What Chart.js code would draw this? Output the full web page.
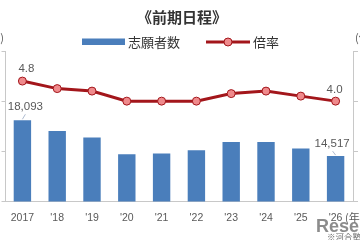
<!DOCTYPE html>
<html lang="ja">
<head>
<meta charset="UTF-8">
<title>前期日程</title>
<script src="https://cdn.jsdelivr.net/npm/chart.js"></script>
<style>
  html, body { margin: 0; padding: 0; background: #fff; }
  #wrap { width: 360px; height: 240px; position: relative; }
</style>
</head>
<body>
<div id="wrap"><canvas id="chart"></canvas></div>
<script>
// data
const years = ["2017", "'18", "'19", "'20", "'21", "'22", "'23", "'24", "'25", "'26"];
const applicants = [18093, 17030, 16370, 14700, 14770, 15100, 15930, 15930, 15270, 14517];
const ratio = [4.8, 4.5, 4.4, 4.0, 4.0, 4.0, 4.3, 4.4, 4.2, 4.0];

const BLUE = '#4a7ebb';
const RED = '#a3161b';
const PINK = '#ef8a8c';
const TXT = '#595959';
const AXIS = '#c8c8c8';
const JP = "'Noto Sans CJK JP', sans-serif";
const NUM = "'Liberation Sans', Arial, sans-serif";

// titles, legend, value labels and small notes
const decorations = {
  id: 'decorations',
  afterDraw(chart) {
    const ctx = chart.ctx;
    ctx.save();

    ctx.fillStyle = '#333';
    ctx.font = 'bold 15px ' + JP;
    ctx.textAlign = 'center';
    ctx.textBaseline = 'middle';
    ctx.fillText('《前期日程》', 182, 17);

    // legend
    ctx.fillStyle = BLUE;
    ctx.fillRect(82, 38.5, 43, 6.5);
    ctx.fillStyle = '#333';
    ctx.font = '13px ' + JP;
    ctx.textAlign = 'left';
    ctx.fillText('志願者数', 128, 42);
    ctx.strokeStyle = RED;
    ctx.lineWidth = 3;
    ctx.beginPath();
    ctx.moveTo(206, 42);
    ctx.lineTo(250, 42);
    ctx.stroke();
    ctx.beginPath();
    ctx.arc(228, 42, 4, 0, Math.PI * 2);
    ctx.fillStyle = PINK;
    ctx.fill();
    ctx.lineWidth = 1;
    ctx.stroke();
    ctx.fillStyle = '#333';
    ctx.fillText('倍率', 253, 42);

    // unit labels (cut by the frame)
    ctx.fillStyle = TXT;
    ctx.font = '11px ' + JP;
    ctx.textAlign = 'right';
    ctx.fillText('(人)', 4, 38);
    ctx.textAlign = 'left';
    ctx.fillText('(倍)', 355, 38);
    ctx.fillText('(年)', 345, 218);

    // value labels
    const bars = chart.getDatasetMeta(0).data;
    const pts = chart.getDatasetMeta(1).data;
    const last = years.length - 1;
    ctx.font = '11.5px ' + NUM;
    ctx.textAlign = 'center';
    ctx.fillStyle = TXT;
    ctx.fillText(ratio[0].toFixed(1), pts[0].x + 4, pts[0].y - 12);
    ctx.fillText(ratio[last].toFixed(1), pts[last].x - 1, pts[last].y - 11);
    ctx.fillText(applicants[0].toLocaleString('en-US'), bars[0].x + 3, bars[0].y - 13);
    ctx.fillText(applicants[last].toLocaleString('en-US'), bars[last].x - 3.5, bars[last].y - 12);

    ctx.strokeStyle = '#9aa9c4';
    ctx.lineWidth = 0.8;
    ctx.beginPath();
    ctx.moveTo(bars[0].x, bars[0].y - 1);
    ctx.lineTo(bars[0].x + 3, bars[0].y - 6);
    ctx.moveTo(bars[last].x, bars[last].y - 1);
    ctx.lineTo(bars[last].x - 3, bars[last].y - 5);
    ctx.stroke();

    // watermark
    ctx.fillStyle = 'rgba(120,120,120,0.85)';
    ctx.font = 'bold 18px ' + NUM;
    ctx.textAlign = 'left';
    ctx.textBaseline = 'alphabetic';
    ctx.fillText('ReseMom', 316, 232);
    ctx.font = '8.5px ' + JP;
    ctx.fillStyle = '#666';
    ctx.fillText('※河合塾', 327, 240);

    ctx.restore();
  }
};

new Chart(document.getElementById('chart'), {
  data: {
    labels: years,
    datasets: [
      {
        type: 'bar',
        label: '志願者数',
        data: applicants,
        backgroundColor: BLUE,
        yAxisID: 'y',
        barPercentage: 0.5,
        categoryPercentage: 1,
        order: 2
      },
      {
        type: 'line',
        label: '倍率',
        data: ratio,
        borderColor: RED,
        borderWidth: 3,
        pointRadius: 4,
        pointBorderWidth: 1,
        pointBackgroundColor: PINK,
        pointBorderColor: RED,
        tension: 0,
        yAxisID: 'y1',
        order: 1
      }
    ]
  },
  options: {
    responsive: true,
    maintainAspectRatio: false,
    animation: false,
    layout: { padding: { top: 51, bottom: 6, left: 0, right: 2 } },
    plugins: {
      legend: { display: false },
      tooltip: { enabled: false }
    },
    scales: {
      x: {
        grid: { display: false, drawTicks: false },
        border: { display: true, color: AXIS },
        ticks: { color: TXT, padding: 10, font: { family: NUM, size: 10.5 } }
      },
      y: {
        position: 'left',
        min: 10000,
        max: 25000,
        ticks: { display: false, stepSize: 5000 },
        grid: { drawOnChartArea: false, drawTicks: true, tickLength: 3.5, color: AXIS },
        border: { display: true, color: AXIS }
      },
      y1: {
        position: 'right',
        min: 0,
        max: 6,
        ticks: { display: false, stepSize: 2 },
        grid: { drawOnChartArea: false, drawTicks: true, tickLength: 5, color: AXIS },
        border: { display: true, color: AXIS }
      }
    }
  },
  plugins: [decorations]
});
</script>
</body>
</html>
